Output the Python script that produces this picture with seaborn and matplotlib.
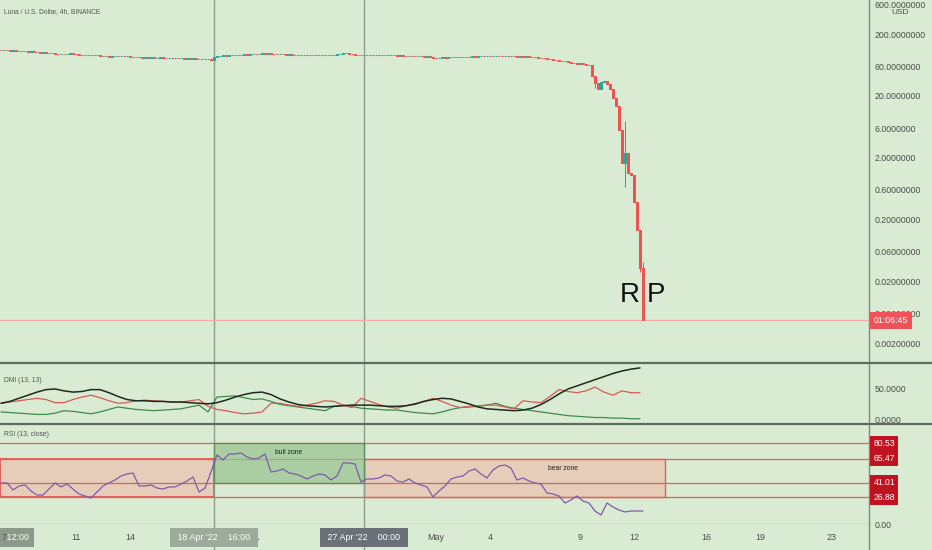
import numpy as np
import pandas as pd
import matplotlib
matplotlib.use("Agg")
import matplotlib.pyplot as plt
import matplotlib.transforms as mtrans
from matplotlib.lines import Line2D
from matplotlib.patches import Rectangle
from matplotlib import font_manager
import seaborn as sns

# ---------------- data ----------------
title = "Luna / U.S. Dollar, 4h, BINANCE"
start_day = 6 + 20 / 24          # first candle: 6 Apr 20:00 (April day number, May 1 = 31)
step_price = 4 / 24              # 4h candles
step_rsi = 8 / 24
step_dmi = 12 / 24

first_open = 110.5
closes = [
    110, 111, 109, 108, 109, 107,
    106, 107, 105, 104, 105, 103,
    102, 100, 101, 99, 98, 97,
    96, 95, 96, 94, 95, 97,
    95, 94, 93, 92, 93, 91,
    91, 90, 91, 89, 88, 88,
    86, 87, 88, 87, 88, 87,
    88, 86, 85, 84, 85, 83,
    84, 83, 84, 82, 83, 84,
    83, 82, 83, 81, 82, 81,
    81, 80, 81, 80, 81, 80,
    79, 78, 79, 78, 77, 84,
    88, 89, 90, 89, 91, 90,
    92, 91, 93, 94, 93, 95,
    96, 95, 96, 97, 96, 97,
    96, 95, 94, 95, 94, 93,
    94, 93, 92, 93, 91, 92,
    91, 90, 91, 92, 91, 90,
    91, 92, 91, 93, 95, 96,
    97, 98, 96, 94, 92, 91,
    91, 92, 91, 90, 91, 92,
    91, 90, 91, 92, 91, 90,
    89, 90, 89, 88, 89, 88,
    87, 88, 87, 86, 87, 85,
    83, 82, 83, 84, 83, 84,
    85, 84, 85, 86, 85, 86,
    86, 87, 86, 87, 88, 87,
    88, 87, 88, 89, 88, 87,
    88, 87, 88, 87, 86, 87,
    86, 87, 86, 85, 84, 83,
    82, 81, 80, 78, 77, 75,
    74, 73, 72, 70, 69, 68,
    66, 67, 65, 63, 62,
    42, 32, 25.7, 33, 34.5, 31.5, 25.7, 18.4, 13.7, 5.6,
    1.63, 2.37, 1.13, 1.04, 0.38, 0.135, 0.033, 0.0047,
]
wick_idx = [198, 208, 213, 214]
wick_high = [42, 7.8, 0.135, 0.041]
wick_low = [26.7, 0.67, 0.028, 0.0047]

adx = [27, 30, 35, 40, 45, 49, 50, 47, 45, 46, 49, 49, 44, 38, 33, 31, 31, 30, 30, 29,
       29, 28, 27, 26, 28, 32, 37, 41, 44, 45, 41, 34, 29, 25, 23, 22, 21, 22, 23, 24,
       24, 24, 23, 22, 22, 23, 26, 30, 33, 35, 34, 30, 26, 21, 18, 17, 16, 15, 16, 19,
       25, 33, 42, 50, 55, 60, 65, 70, 75, 79, 82, 84]
plus_di = [13, 12, 11, 10, 9, 9, 11, 15, 14, 12, 10, 13, 17, 21, 19, 17, 16, 15, 16, 17,
           18, 21, 24, 13, 37, 38, 39, 36, 33, 34, 30, 25, 23, 21, 19, 17, 15, 22, 24, 22,
           19, 18, 17, 16, 16, 14, 12, 11, 10, 13, 17, 20, 21, 22, 24, 27, 22, 19, 17, 15,
           13, 11, 9, 7, 6, 5, 4, 4, 3, 3, 2, 2]
minus_di = [27, 29, 31, 33, 35, 33, 28, 28, 33, 37, 40, 36, 31, 27, 28, 31, 32, 31, 30, 29,
            29, 31, 33, 22, 17, 15, 12, 10, 11, 13, 27, 27, 24, 22, 24, 27, 31, 30, 24, 20,
            35, 30, 25, 21, 19, 23, 25, 30, 35, 30, 24, 20, 22, 23, 24, 24, 21, 18, 31, 29,
            28, 38, 49, 46, 44, 47, 53, 45, 40, 47, 44, 44]
rsi = [41, 41, 34, 38, 39, 33, 29, 29, 35, 41, 37, 40, 35, 30, 28, 26, 32, 38, 41, 44,
       48, 50, 51, 38, 38, 39, 36, 35, 37, 37, 40, 43, 47, 32, 36, 52, 69, 64, 70, 70,
       71, 67, 65, 66, 70, 52, 53, 55, 51, 50, 48, 45, 48, 50, 49, 44, 48, 61, 61, 60,
       42, 45, 45, 46, 49, 48, 43, 42, 45, 41, 39, 37, 27, 33, 38, 45, 47, 48, 53, 55,
       50, 46, 54, 58, 59, 56, 44, 46, 43, 41, 40, 31, 30, 28, 21, 24, 28, 23, 21, 13,
       9, 21, 17, 14, 12, 13, 13, 13]
rsi_levels = [80.53, 65.47, 41.01, 26.88]

price_ticks = [600, 200, 60, 20, 6, 2, 0.6, 0.2, 0.06, 0.02, 0.006, 0.002]
price_tick_labels = ["600.0000000", "200.0000000", "60.0000000", "20.0000000", "6.0000000",
                     "2.0000000", "0.60000000", "0.20000000", "0.06000000", "0.02000000",
                     "0.00600000", "0.00200000"]
time_tick_days = [7, 11, 14, 21, 25, 31, 34, 39, 42, 46, 49, 53]
time_tick_labels = ["7", "11", "14", "21", "25", "May", "4", "9", "12", "16", "19", "23"]
mark_days = [18 + 16 / 24, 27.0]          # 18 Apr '22 16:00, 27 Apr '22 00:00
mark_labels = [" 18 Apr '22    16:00 ", " 27 Apr '22    00:00 "]
bull_zone = (mark_days[0], mark_days[1])
bear_zone_end = 43.72
countdown = "01:06:45"

# ---------------- style ----------------
sns.set_style("white")
names = {f.name for f in font_manager.fontManager.ttflist}
FONT = next((n for n in ["Liberation Sans Narrow", "Liberation Sans"] if n in names), "DejaVu Sans")
plt.rcParams["font.family"] = [FONT, "DejaVu Sans"]

BG = "#d9ebd3"
AXC = "#7f8f7f"
TXT = "#4d4d4d"
UP, DOWN = "#26a69a", "#ef5350"

W, H = 932, 550
fig = plt.figure(figsize=(W / 100, H / 100), dpi=100)
fig.patch.set_facecolor(BG)

def fx(px):
    return px / W

def fy(px):
    return 1 - px / H

RIGHT = 869
XLIM = (6.778, 55.056)
pax = fig.add_axes([0, fy(362), fx(RIGHT), 362 / H])
dax = fig.add_axes([0, fy(423), fx(RIGHT), (423 - 364) / H])
rax = fig.add_axes([0, fy(524), fx(RIGHT), (524 - 425) / H])
tax = fig.add_axes([0, 0, fx(RIGHT), 26 / H])

for ax in (pax, dax, rax, tax):
    ax.set_facecolor(BG)
    ax.set_xlim(*XLIM)
    for s in ("top", "left", "bottom"):
        ax.spines[s].set_visible(False)
    ax.spines["right"].set_color(AXC)
    ax.spines["right"].set_linewidth(1)
    ax.set_xticks([])
    ax.yaxis.tick_right()
    ax.tick_params(axis="y", length=0, pad=4, labelsize=6.3, labelcolor=TXT)
    for d in mark_days:
        ax.axvline(d, color="#8d9c8d", lw=1, zorder=0.8)
rax.spines["bottom"].set_visible(True)
rax.spines["bottom"].set_color("#5f6b5f")

# ---------------- price panel ----------------
n = len(closes)
df = pd.DataFrame({"t": start_day + np.arange(n) * step_price, "close": closes})
df["open"] = [first_open] + closes[:-1]
df["hi"] = df[["open", "close"]].max(axis=1)
df["lo"] = df[["open", "close"]].min(axis=1)
df["whi"] = df["hi"]
df["wlo"] = df["lo"]
df.loc[wick_idx, "whi"] = wick_high
df.loc[wick_idx, "wlo"] = wick_low
cols = np.where(df["close"] >= df["open"], UP, DOWN)

pax.set_yscale("log")
pax.set_ylim(0.000986, 710)
pax.vlines(df["t"], df["wlo"], df["whi"], colors=cols, lw=0.7, zorder=2)
pax.bar(df["t"], df["hi"] - df["lo"], bottom=df["lo"], width=0.09, color=cols,
        edgecolor=cols, linewidth=0.75, zorder=3)
pax.set_yticks(price_ticks)
pax.set_yticklabels(price_tick_labels)
pax.minorticks_off()
pax.axhline(closes[-1], color="#eeaaa8", lw=0.8, zorder=1)
btr = mtrans.blended_transform_factory(pax.transAxes, pax.transData)
pax.text(873.5 / RIGHT, closes[-1], countdown, transform=btr, ha="left", va="center",
         color="white", fontsize=6.3, zorder=10,
         bbox=dict(boxstyle="square,pad=0.45", fc="#f0525a", ec="none"))
pax.text(630 / RIGHT, 1 - 295 / 362, "R", transform=pax.transAxes, ha="center", va="center",
         fontsize=20, color="#111111")
pax.text(656 / RIGHT, 1 - 295 / 362, "P", transform=pax.transAxes, ha="center", va="center",
         fontsize=20, color="#111111")
fig.text(fx(4), fy(12), title, ha="left", va="center", fontsize=4.8, color="#555555")
fig.text(fx(900), fy(13), "USD", ha="center", va="center", fontsize=6, color=TXT,
         bbox=dict(boxstyle="square,pad=0.15", fc=BG, ec="none"))

# ---------------- DMI panel ----------------
t_dmi = start_day + np.arange(len(adx)) * step_dmi
sns.lineplot(x=t_dmi, y=plus_di, ax=dax, color="#3f8a4c", linewidth=0.9, legend=False)
sns.lineplot(x=t_dmi, y=minus_di, ax=dax, color="#d65a58", linewidth=0.9, legend=False)
sns.lineplot(x=t_dmi, y=adx, ax=dax, color="#1e2b1f", linewidth=1.1, legend=False)
dax.set_ylim(-4.84, 90.3)
dax.set_yticks([0, 50])
dax.set_yticklabels(["0.0000", "50.0000"])
dax.set_xlabel("")
dax.set_ylabel("")
dax.set_xticks([])
fig.text(fx(4), fy(380), "DMI (13, 13)", ha="left", va="center", fontsize=4.9, color="#555555")

# ---------------- RSI panel ----------------
rax.set_ylim(0, 99)
top, upper, mid, low = rsi_levels
for lv in rsi_levels:
    rax.axhline(lv, color="#e0605a", lw=0.9, zorder=1)
rax.add_patch(Rectangle((XLIM[0], low), bull_zone[0] - XLIM[0], upper - low,
                        fc="#e6cdb9", ec="#e0605a", lw=1.4, zorder=0.5))
rax.add_patch(Rectangle((bull_zone[1], low), bear_zone_end - bull_zone[1], upper - low,
                        fc="#e6cdb9", ec="#e0605a", lw=1.0, zorder=0.5))
rax.add_patch(Rectangle((bull_zone[0], mid), bull_zone[1] - bull_zone[0], top - mid,
                        fc="#99c290", alpha=0.72, ec="#4f8450", lw=1.0, zorder=2))
rax.text((bull_zone[0] + bull_zone[1]) / 2, 72, "bull zone", ha="center", va="center",
         fontsize=4.9, color="#222222", zorder=5)
rax.text(38.06, 56, "bear zone", ha="center", va="center", fontsize=4.9, color="#222222", zorder=5)
t_rsi = start_day + np.arange(len(rsi)) * step_rsi
sns.lineplot(x=t_rsi, y=rsi, ax=rax, color="#7e5ab0", linewidth=0.9, legend=False, zorder=4)
rax.set_yticks([0])
rax.set_yticklabels(["0.00"])
rax.set_xlabel("")
rax.set_ylabel("")
rax.set_xticks([])
rtr = mtrans.blended_transform_factory(rax.transAxes, rax.transData)
for lv in rsi_levels:
    rax.text(873.5 / RIGHT, lv, f"{lv:.2f}", transform=rtr, ha="left", va="center",
             color="white", fontsize=6.2, zorder=10,
             bbox=dict(boxstyle="square,pad=0.38", fc="#c1121f", ec="none"))
fig.text(fx(4), fy(435), "RSI (13, close)", ha="left", va="center", fontsize=4.9, color="#555555")

# ---------------- time axis ----------------
tax.set_ylim(0, 1)
tax.set_yticks([])
for d, lab in zip(time_tick_days, time_tick_labels):
    tax.text(d, 0.48, lab, ha="center", va="center", fontsize=6.4, color=TXT,
             zorder=6 if lab == "7" else 3)
tax.text(7.72, 0.48, " 12:00", ha="center", va="center", fontsize=6.4, color="white", zorder=5,
         bbox=dict(boxstyle="square,pad=0.55", fc="#8c9a8a", ec="none"))
for d, lab, c in zip(mark_days, mark_labels, ["#9dac9a", "#6b7079"]):
    tax.text(d, 0.48, lab, ha="center", va="center", fontsize=6.4, color="white", zorder=5,
             bbox=dict(boxstyle="square,pad=0.55", fc=c, ec="none"))

# panel separators
for ypx in (362.5, 423.5):
    fig.add_artist(Line2D([0, 1], [fy(ypx)] * 2, transform=fig.transFigure,
                          color="#5f6b5f", lw=1.6))

fig.savefig("out.png", dpi=100, facecolor=BG)
